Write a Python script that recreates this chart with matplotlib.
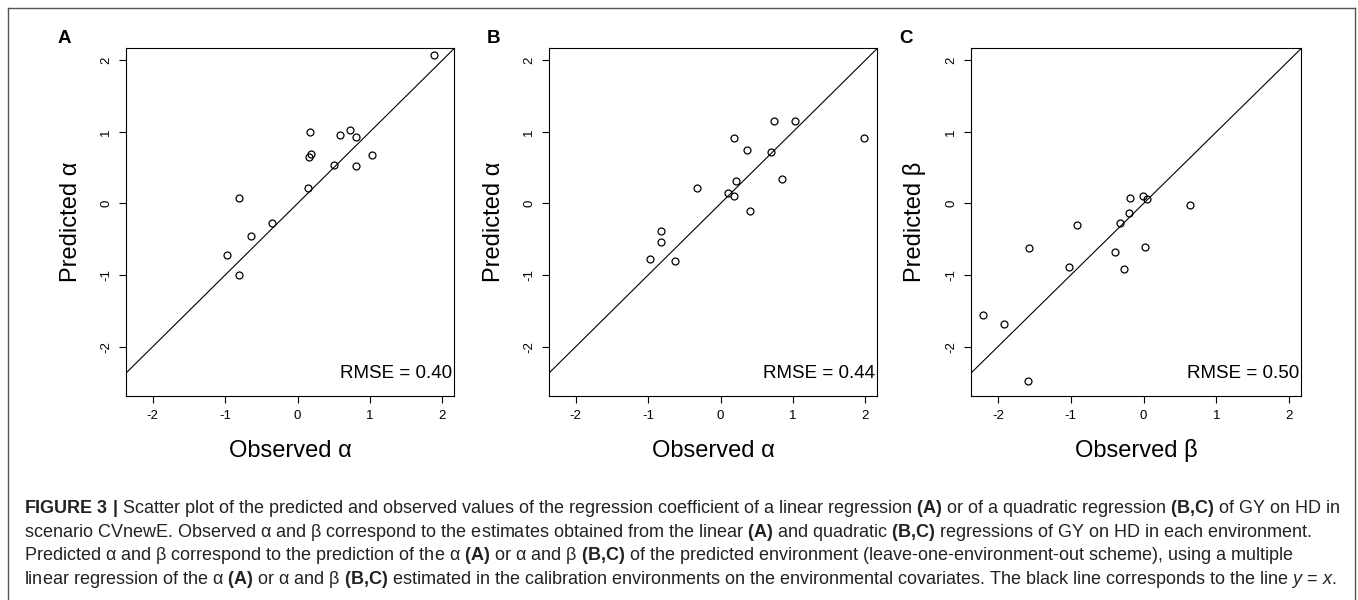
import matplotlib
matplotlib.use("Agg")
from matplotlib import pyplot as plt
from matplotlib import font_manager
from matplotlib.lines import Line2D

# observed / predicted coefficients
obs_a = [1.89, 0.17, 0.59, 0.72, 0.81, 1.03, 0.16, 0.19, 0.50, 0.81, 0.15, -0.81, -0.35, -0.64, -0.98, -0.81]
pred_a = [2.07, 1.00, 0.95, 1.02, 0.93, 0.67, 0.65, 0.69, 0.53, 0.52, 0.22, 0.08, -0.28, -0.46, -0.72, -1.00]

obs_b = [0.74, 1.03, 0.18, 1.98, 0.36, 0.69, 0.85, 0.21, -0.32, 0.10, 0.18, 0.40, -0.82, -0.82, -0.98, -0.63]
pred_b = [1.15, 1.15, 0.92, 0.92, 0.74, 0.72, 0.34, 0.31, 0.22, 0.15, 0.10, -0.10, -0.38, -0.54, -0.77, -0.80]

obs_c = [-0.19, -0.01, 0.05, 0.64, -0.20, -0.33, -0.91, -1.57, 0.02, -0.39, -1.02, -0.27, -2.21, -1.92, -1.59]
pred_c = [0.08, 0.10, 0.06, -0.02, -0.14, -0.28, -0.30, -0.63, -0.61, -0.68, -0.89, -0.92, -1.56, -1.68, -2.48]

panels = ["A", "B", "C"]
xlabels = ["Observed α", "Observed α", "Observed β"]
ylabels = ["Predicted α", "Predicted α", "Predicted β"]
rmse = ["0.40", "0.44", "0.50"]
ticks = [-2, -1, 0, 1, 2]

W, H = 1358, 600
plt.rcParams['font.family'] = ['Liberation Sans', 'DejaVu Sans']
plt.rcParams['axes.unicode_minus'] = False

fig = plt.figure(figsize=(W / 100, H / 100), dpi=100)

# axes boxes in pixels: left, right, top, bottom
boxes = [(126, 454, 48, 396), (549, 877, 48, 396), (971, 1301, 48, 396)]
letter_x = [58, 487, 899]
data = [(obs_a, pred_a), (obs_b, pred_b), (obs_c, pred_c)]

for i, (l, r, t, b) in enumerate(boxes):
    ax = fig.add_axes([l / W, (H - b) / H, (r - l) / W, (b - t) / H])
    x, y = data[i]
    ax.plot(x, y, 'o', mfc='none', mec='black', ms=5, mew=0.9, ls='none')
    ax.axline((0, 0), slope=1, color='black', lw=0.8)
    ax.set_xlim(-2.37, 2.16)
    ax.set_ylim(-2.69, 2.17)
    ax.set_xticks(ticks)
    ax.set_yticks(ticks)
    ax.tick_params(direction='out', length=5, width=0.8, labelsize=9.5, pad=5)
    for lab in ax.get_yticklabels():
        lab.set_rotation(90)
        lab.set_va('center')
    for s in ax.spines.values():
        s.set_linewidth(0.8)
    ax.text(0.995, 0.052, "RMSE = " + rmse[i], transform=ax.transAxes,
            ha='right', va='baseline', fontsize=13.5)
    ax.text(0.5, -0.175, xlabels[i], transform=ax.transAxes,
            ha='center', va='baseline', fontsize=17)
    ax.text(-0.15, 0.5, ylabels[i], transform=ax.transAxes, rotation=90,
            rotation_mode='anchor', ha='center', va='baseline', fontsize=17)
    fig.text(letter_x[i] / W, (H - 43) / H, panels[i], fontsize=13.5,
             fontweight='bold', va='baseline')

# outer frame (open at the bottom)
frame = '#555555'
fig.add_artist(Line2D([8 / W, 8 / W], [0, (H - 8) / H], color=frame, lw=1))
fig.add_artist(Line2D([1355 / W, 1355 / W], [0, (H - 8) / H], color=frame, lw=1))
fig.add_artist(Line2D([8 / W, 1355 / W], [(H - 8) / H, (H - 8) / H], color=frame, lw=1))

# caption, with bold / italic parts through mathtext
try:
    font_manager.findfont('Liberation Sans Narrow', fallback_to_default=False)
    cap_font = 'Liberation Sans Narrow'
except Exception:
    cap_font = 'Liberation Sans'
plt.rcParams['mathtext.fontset'] = 'custom'
plt.rcParams['mathtext.rm'] = cap_font
plt.rcParams['mathtext.bf'] = cap_font + ':bold'
plt.rcParams['mathtext.it'] = cap_font + ':italic'

A = r"$\mathbf{(A)}$"
BC = r"$\mathbf{(B{,}C)}$"
caption = [
    r"$\mathbf{FIGURE\ 3\ |}$ Scatter plot of the predicted and observed values of the regression coefficient "
    r"of a linear regression " + A + " or of a quadratic regression " + BC + " of GY on HD in",
    "scenario CVnewE. Observed α and β correspond to the estimates obtained from the linear " + A +
    " and quadratic " + BC + " regressions of GY on HD in each environment.",
    "Predicted α and β correspond to the prediction of the α " + A + " or α and β " + BC +
    " of the predicted environment (leave-one-environment-out scheme), using a multiple",
    "linear regression of the α " + A + " or α and β " + BC +
    " estimated in the calibration environments on the environmental covariates. "
    r"The black line corresponds to the line $\mathit{y}$ = $\mathit{x}$.",
]
baselines = [513, 537, 560, 584]
texts = []
for line, yb in zip(caption, baselines):
    texts.append(fig.text(24 / W, (H - yb) / H, line, fontsize=12, va='baseline',
                          family=cap_font, color='#222222'))

# fit the caption width to the reference text block
renderer = fig.canvas.get_renderer()
w0 = texts[0].get_window_extent(renderer).width
size = 12 * (1338 - 24) / w0
for t in texts:
    t.set_fontsize(size)

fig.savefig("out.png", dpi=100)
